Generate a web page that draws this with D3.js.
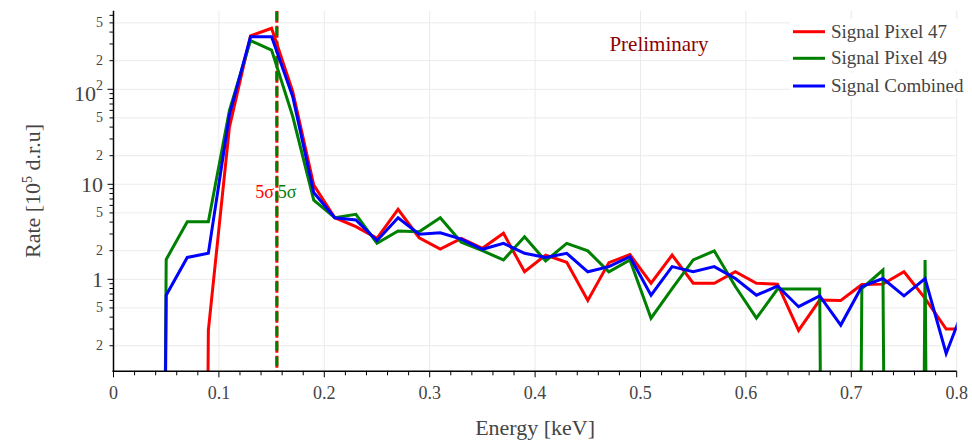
<!DOCTYPE html>
<html>
<head>
<meta charset="utf-8">
<script src="https://cdn.jsdelivr.net/npm/d3@7"></script>
<style>
  html, body { margin: 0; padding: 0; background: #fff; }
  svg { display: block; font-family: "Liberation Serif", "Times New Roman", serif; }
</style>
</head>
<body>
<svg id="chart" width="972" height="442"></svg>
<script>
// ---- data ----
const energy = [0.03,0.05,0.07,0.09,0.11,0.13,0.15,0.17,0.19,0.21,0.23,0.25,0.27,0.29,0.31,0.33,0.35,0.37,0.39,0.41,0.43,0.45,0.47,0.49,0.51,0.53,0.55,0.57,0.59,0.61,0.63,0.65,0.67,0.69,0.71,0.73,0.75,0.77,0.79,0.81];
const pixel47 = [0,0,0,0.29,40,364,439,95,9.8,4.45,3.58,2.7,5.45,2.74,2.08,2.7,2.12,3.05,1.2,1.8,1.51,0.6,1.5,1.82,0.91,1.8,0.91,0.91,1.2,0.91,0.89,0.29,0.605,0.6,0.88,0.89,1.2,0.63,0.30,0.30];
const pixel49 = [0,1.62,4.04,4.04,60,325,259,52,6.8,4.45,4.83,2.39,3.22,3.17,4.45,2.45,2.0,1.6,2.81,1.56,2.39,1.99,1.2,1.6,0.39,0.8,1.6,1.99,0.84,0.39,0.79,0.79,0.79,0,0.8,1.25,0,1.6,0,0];
const combined = [0,0.68,1.7,1.88,54,358,358,84,8.2,4.45,4.21,2.55,4.45,2.98,3.09,2.65,2.07,2.39,1.88,1.7,1.88,1.2,1.36,1.73,0.68,1.36,1.2,1.36,1.02,0.68,0.85,0.515,0.67,0.33,0.84,1.02,0.67,1.02,0.166,0.62];
const seriesNames = ["Signal Pixel 47", "Signal Pixel 49", "Signal Combined"];
const seriesColors = ["#ff0000", "#008000", "#0000ff"];
const thresholdEnergy = 0.155;
const xTicks = [0,0.1,0.2,0.3,0.4,0.5,0.6,0.7,0.8];
const xTickLabels = ["0","0.1","0.2","0.3","0.4","0.5","0.6","0.7","0.8"];
const yTicks = [0.2,0.5,1,2,5,10,20,50,100,200,500];
const yTickLabels = ["2","5","1","2","5","10","2","5","10|2","2","5"];
const yMajor = [false,false,true,false,false,true,false,false,true,false,false];

// ---- layout ----
const svg = d3.select("#chart");
const L = 113.5, R = 956.7, T = 10.7, B = 371.3;
const x = d3.scaleLinear().domain([0, 0.8]).range([L, R]);
const y = d3.scaleLog().domain([Math.pow(10, -0.968), Math.pow(10, 2.827)]).range([B, T]);
const textCol = "#444";

svg.append("defs").append("clipPath").attr("id", "clip")
  .append("rect").attr("x", L).attr("y", T).attr("width", R - L).attr("height", B - T);

// grid
const grid = svg.append("g");
grid.selectAll("line.h").data(yTicks).join("line")
  .attr("x1", L).attr("x2", R).attr("y1", d => y(d)).attr("y2", d => y(d))
  .attr("stroke", "#ebebeb").attr("stroke-width", 1);
grid.selectAll("line.v").data(xTicks.slice(1)).join("line")
  .attr("y1", T).attr("y2", B).attr("x1", d => x(d)).attr("x2", d => x(d))
  .attr("stroke", "#ebebeb").attr("stroke-width", 1);

// data lines
const plot = svg.append("g").attr("clip-path", "url(#clip)");
const allSeries = [pixel47, pixel49, combined];
const line = d3.line()
  .x((d, i) => x(energy[i]))
  .y(d => y(d > 0 ? d : 1e-30));

// threshold dashed lines
plot.append("line").attr("x1", x(thresholdEnergy)).attr("x2", x(thresholdEnergy))
  .attr("y1", T).attr("y2", B).attr("stroke", "#ff0000").attr("stroke-width", 3)
  .attr("stroke-dasharray", "12,3");
plot.append("line").attr("x1", x(thresholdEnergy)).attr("x2", x(thresholdEnergy))
  .attr("y1", T).attr("y2", B).attr("stroke", "#008000").attr("stroke-width", 3)
  .attr("stroke-dasharray", "9,6").attr("stroke-dashoffset", -1);

allSeries.forEach((s, k) => {
  plot.append("path").datum(s).attr("d", line)
    .attr("fill", "none").attr("stroke", seriesColors[k]).attr("stroke-width", 3)
    .attr("stroke-linejoin", "miter");
});

// axes
const xAxisG = svg.append("g");
xAxisG.append("line").attr("x1", L - 1).attr("x2", R).attr("y1", B).attr("y2", B)
  .attr("stroke", "#000").attr("stroke-width", 1.5);
const xMinor = d3.range(0, 41).map(i => i * 0.02);
xAxisG.selectAll("line.mt").data(xMinor).join("line")
  .attr("x1", d => x(d)).attr("x2", d => x(d))
  .attr("y1", B).attr("y2", (d, i) => B + (i % 5 === 0 ? 6 : 4))
  .attr("stroke", "#000").attr("stroke-width", 1);
xAxisG.selectAll("text").data(xTicks).join("text")
  .attr("x", d => x(d)).attr("y", 399)
  .attr("text-anchor", "middle").attr("font-size", 18).attr("fill", textCol)
  .text((d, i) => xTickLabels[i]);

const yAxisG = svg.append("g");
yAxisG.append("line").attr("x1", L).attr("x2", L).attr("y1", T).attr("y2", B + 0.75)
  .attr("stroke", "#000").attr("stroke-width", 1.5);
const yMinor = [];
[0.1, 1, 10, 100].forEach(dec => { for (let m = 1; m <= 9; m++) { const v = m * dec; if (v >= y.domain()[0] && v <= y.domain()[1]) yMinor.push(v); } });
yAxisG.selectAll("line.mt").data(yMinor).join("line")
  .attr("x1", L).attr("x2", d => L - ([1, 10, 100].includes(Math.round(d * 1000) / 1000) ? 6 : 4))
  .attr("y1", d => y(d)).attr("y2", d => y(d))
  .attr("stroke", "#000").attr("stroke-width", 1);
const yl = yAxisG.selectAll("text").data(yTicks).join("text")
  .attr("x", 103).attr("y", d => y(d))
  .attr("text-anchor", "end").attr("dominant-baseline", "central")
  .attr("fill", textCol)
  .attr("font-size", (d, i) => yMajor[i] ? 22 : 14);
yl.each(function(d, i) {
  const lab = yTickLabels[i];
  const t = d3.select(this);
  if (lab.includes("|")) {
    const [base, exp] = lab.split("|");
    t.append("tspan").text(base);
    t.append("tspan").attr("font-size", 14).attr("dy", -8).text(exp);
    t.attr("dy", 4);
  } else {
    t.text(lab);
  }
});

// axis titles
svg.append("text").attr("x", (L + R) / 2).attr("y", 435)
  .attr("text-anchor", "middle").attr("font-size", 22).attr("fill", textCol)
  .text("Energy [keV]");
const yt = svg.append("text").attr("transform", `translate(40,${(T + B) / 2}) rotate(-90)`)
  .attr("text-anchor", "middle").attr("font-size", 22).attr("fill", textCol);
yt.append("tspan").text("Rate [10");
yt.append("tspan").attr("font-size", 14).attr("dy", -8).text("5");
yt.append("tspan").attr("dy", 8).text(" d.r.u]");

// 5 sigma labels
svg.append("text").attr("x", x(thresholdEnergy) - 3).attr("y", 198)
  .attr("text-anchor", "end").attr("font-size", 18).attr("fill", "#ff0000").text("5σ");
svg.append("text").attr("x", x(thresholdEnergy) + 1).attr("y", 198)
  .attr("text-anchor", "start").attr("font-size", 18).attr("fill", "#008000").text("5σ");

// Preliminary
svg.append("text").attr("x", 659).attr("y", 51)
  .attr("text-anchor", "middle").attr("font-size", 21).attr("fill", "#8b0000").text("Preliminary");

// legend
const legY = [31.7, 58.3, 86];
const leg = svg.append("g");
seriesNames.forEach((n, k) => {
  leg.append("rect").attr("x", 790).attr("y", legY[k] - 13).attr("width", 180).attr("height", 26).attr("fill", "#fff");
});
seriesNames.forEach((n, k) => {
  leg.append("line").attr("x1", 793).attr("x2", 825).attr("y1", legY[k]).attr("y2", legY[k])
    .attr("stroke", seriesColors[k]).attr("stroke-width", 3);
  leg.append("text").attr("x", 831).attr("y", legY[k] + 6)
    .attr("font-size", 19).attr("fill", textCol).text(n);
});
</script>
</body>
</html>
